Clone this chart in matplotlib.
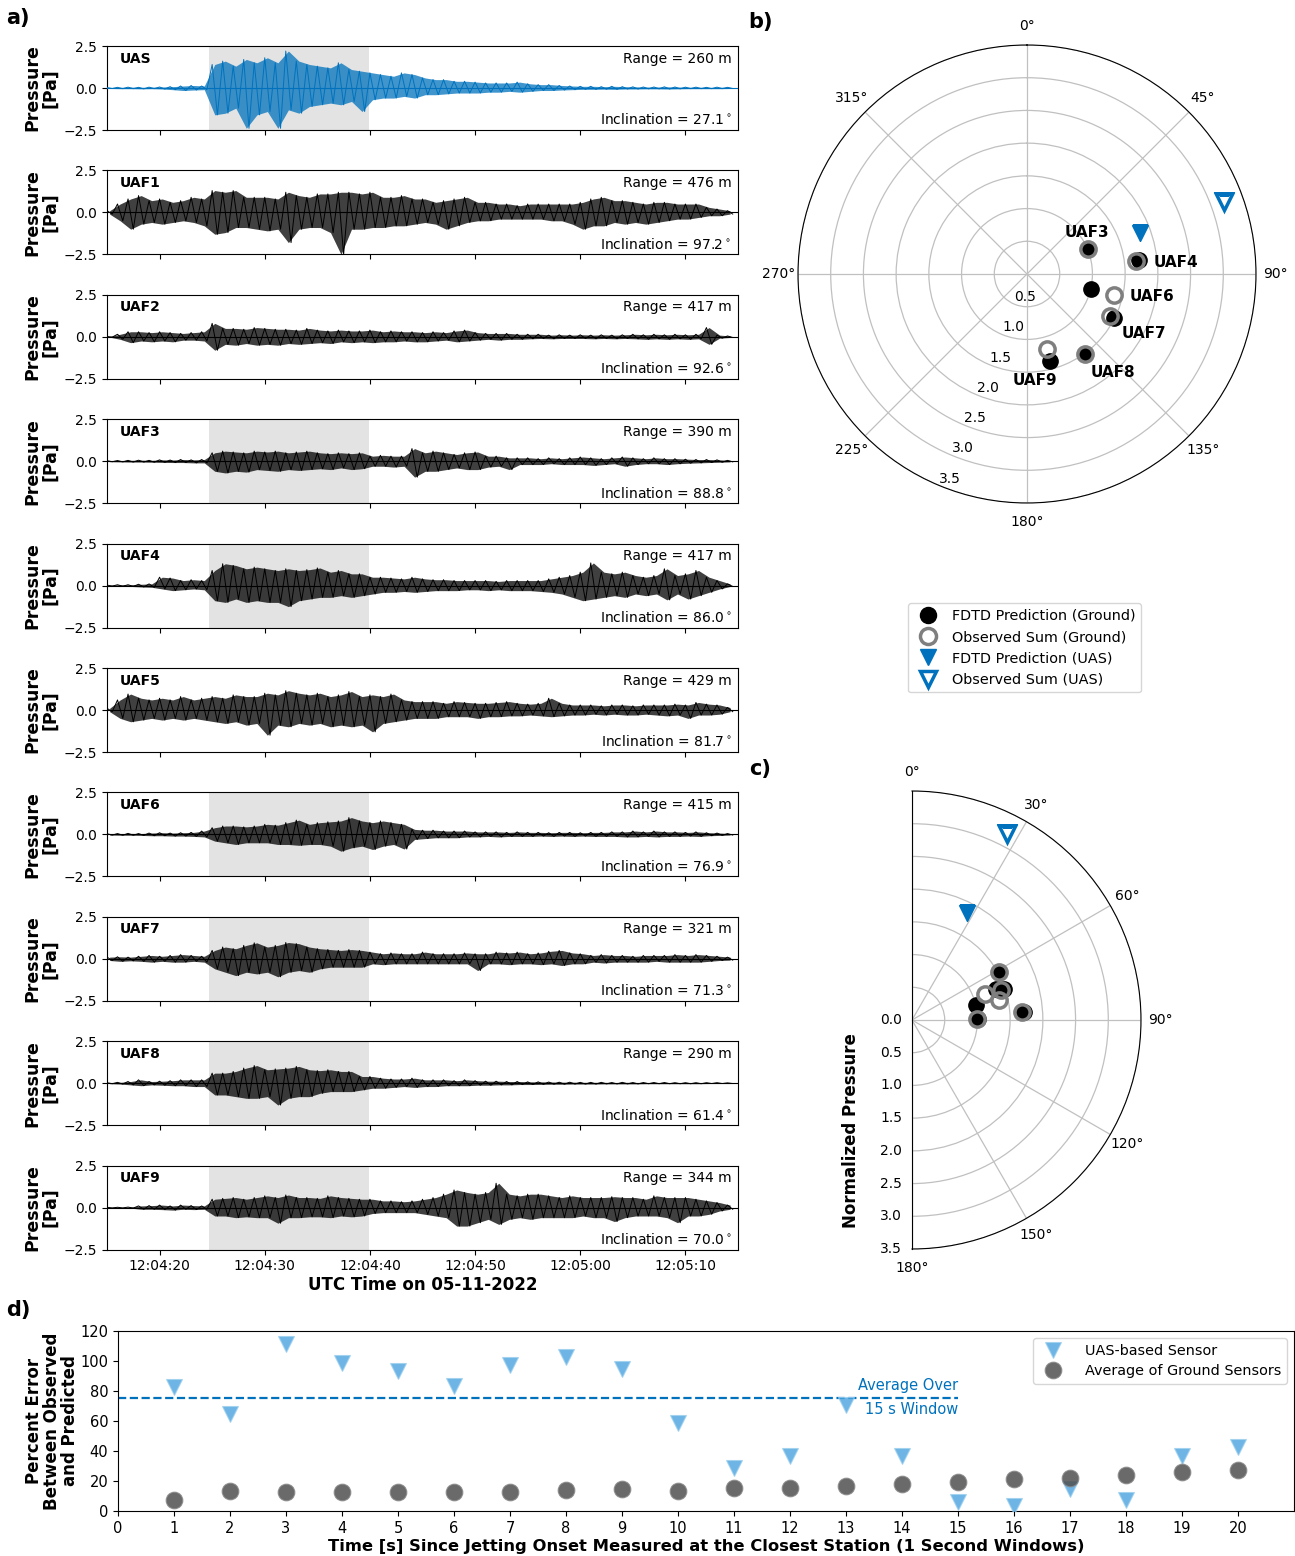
import numpy as np
import matplotlib.pyplot as plt

plt.rcParams['font.family'] = ['DejaVu Sans']

# ---------------- data ----------------
# panel a: 1 s bins from 12:04:15 (seconds after 12:04:00), positive / negative peaks [Pa]
sec = np.arange(15, 75)
onset_window = (24.7, 39.9)

stations = ["UAS", "UAF1", "UAF2", "UAF3", "UAF4", "UAF5", "UAF6", "UAF7", "UAF8", "UAF9"]
ranges_m = [260, 476, 417, 390, 417, 429, 415, 321, 290, 344]
inclinations = [27.1, 97.2, 92.6, 88.8, 86.0, 81.7, 76.9, 71.3, 61.4, 70.0]
shaded = [True, False, False, True, True, False, True, True, True, True]

uas_pos = [0.03, 0.04, 0.05, 0.04, 0.05, 0.06, 0.08, 0.12, 0.15, 0.12,
           1.4, 1.6, 1.3, 1.7, 1.5, 1.8, 1.5, 2.2, 1.6, 1.4,
           1.3, 1.2, 1.5, 1.1, 1.0, 0.9, 0.8, 0.7, 0.9, 0.8,
           0.6, 0.5, 0.5, 0.4, 0.4, 0.35, 0.3, 0.3, 0.3, 0.35,
           0.25, 0.2, 0.2, 0.15, 0.12, 0.1, 0.1, 0.08, 0.1, 0.08,
           0.07, 0.06, 0.06, 0.07, 0.06, 0.05, 0.05, 0.04, 0.05, 0.04]
uas_neg = [-0.03, -0.04, -0.04, -0.05, -0.04, -0.06, -0.1, -0.15, -0.12, -0.1,
           -1.6, -1.5, -1.2, -2.4, -1.6, -1.4, -2.4, -1.3, -1.5, -1.1,
           -1.0, -0.9, -1.0, -0.8, -1.4, -0.7, -0.6, -0.6, -0.5, -0.6,
           -0.4, -0.4, -0.35, -0.3, -0.3, -0.3, -0.25, -0.25, -0.2, -0.25,
           -0.2, -0.15, -0.15, -0.12, -0.1, -0.08, -0.08, -0.07, -0.08, -0.06,
           -0.06, -0.05, -0.05, -0.06, -0.05, -0.04, -0.04, -0.04, -0.04, -0.03]

uaf1_pos = [0.1, 0.5, 0.8, 1.0, 0.7, 0.8, 0.6, 0.7, 0.9, 0.8,
            1.3, 1.2, 1.3, 0.9, 0.9, 0.9, 0.8, 1.2, 1.0, 0.9,
            1.1, 1.1, 1.2, 1.2, 1.1, 1.2, 0.9, 0.9, 1.0, 0.8,
            0.8, 0.6, 0.7, 0.8, 0.9, 0.6, 0.6, 0.5, 0.5, 0.4,
            0.5, 0.5, 0.5, 0.5, 0.5, 0.6, 0.8, 0.9, 0.7, 0.7,
            0.6, 0.5, 0.6, 0.6, 0.5, 0.5, 0.5, 0.3, 0.2, 0.1]
uaf1_neg = [-0.1, -0.5, -1.0, -0.7, -0.6, -0.7, -0.6, -0.5, -0.6, -0.8,
            -1.3, -1.2, -0.9, -0.9, -1.0, -1.1, -1.0, -1.8, -1.0, -0.9,
            -0.9, -1.2, -2.5, -1.0, -1.0, -0.9, -0.9, -0.8, -0.8, -0.7,
            -0.6, -0.7, -1.0, -0.8, -0.6, -0.5, -0.5, -0.4, -0.4, -0.4,
            -0.4, -0.4, -0.5, -0.5, -0.7, -1.0, -0.8, -0.8, -0.6, -0.7,
            -0.6, -0.7, -0.6, -0.5, -0.4, -0.4, -0.3, -0.2, -0.2, -0.1]

uaf2_pos = [0.02, 0.15, 0.3, 0.3, 0.25, 0.3, 0.25, 0.2, 0.25, 0.3,
            0.8, 0.5, 0.5, 0.45, 0.55, 0.5, 0.45, 0.45, 0.4, 0.5,
            0.4, 0.35, 0.4, 0.35, 0.35, 0.4, 0.3, 0.35, 0.3, 0.3,
            0.25, 0.3, 0.25, 0.35, 0.4, 0.25, 0.2, 0.2, 0.2, 0.15,
            0.15, 0.15, 0.1, 0.12, 0.1, 0.12, 0.1, 0.12, 0.1, 0.12,
            0.15, 0.12, 0.15, 0.12, 0.15, 0.12, 0.15, 0.55, 0.1, 0.05]
uaf2_neg = [-0.02, -0.15, -0.35, -0.25, -0.3, -0.25, -0.3, -0.2, -0.2, -0.25,
            -0.8, -0.45, -0.5, -0.4, -0.5, -0.45, -0.5, -0.4, -0.45, -0.4,
            -0.35, -0.4, -0.3, -0.35, -0.3, -0.35, -0.3, -0.3, -0.25, -0.3,
            -0.3, -0.25, -0.2, -0.3, -0.25, -0.2, -0.15, -0.2, -0.15, -0.15,
            -0.12, -0.1, -0.12, -0.1, -0.1, -0.1, -0.12, -0.1, -0.12, -0.1,
            -0.12, -0.15, -0.12, -0.15, -0.12, -0.15, -0.12, -0.45, -0.08, -0.04]

uaf3_pos = [0.03, 0.04, 0.05, 0.06, 0.05, 0.08, 0.07, 0.1, 0.08, 0.1,
            0.5, 0.6, 0.55, 0.5, 0.6, 0.55, 0.6, 0.5, 0.55, 0.6,
            0.5, 0.45, 0.5, 0.45, 0.5, 0.3, 0.35, 0.3, 0.3, 0.75,
            0.5, 0.6, 0.5, 0.4, 0.5, 0.55, 0.3, 0.3, 0.2, 0.2,
            0.2, 0.15, 0.2, 0.15, 0.2, 0.25, 0.2, 0.15, 0.2, 0.25,
            0.2, 0.15, 0.2, 0.15, 0.15, 0.12, 0.1, 0.1, 0.08, 0.05]
uaf3_neg = [-0.03, -0.04, -0.05, -0.05, -0.06, -0.07, -0.08, -0.08, -0.1, -0.1,
            -0.6, -0.7, -0.6, -0.65, -0.5, -0.55, -0.6, -0.5, -0.55, -0.5,
            -0.45, -0.5, -0.4, -0.5, -0.45, -0.3, -0.3, -0.35, -0.3, -0.95,
            -0.6, -0.6, -0.5, -0.4, -0.5, -0.5, -0.35, -0.3, -0.5, -0.2,
            -0.2, -0.2, -0.15, -0.2, -0.2, -0.2, -0.25, -0.2, -0.15, -0.3,
            -0.2, -0.15, -0.15, -0.2, -0.15, -0.12, -0.1, -0.08, -0.06, -0.04]

uaf4_pos = [0.03, 0.05, 0.05, 0.08, 0.1, 0.5, 0.45, 0.3, 0.35, 0.3,
            0.9, 1.3, 1.2, 1.0, 1.1, 1.0, 0.9, 1.0, 0.9, 0.95,
            1.05, 0.8, 0.9, 0.7, 0.7, 0.5, 0.5, 0.45, 0.4, 0.5,
            0.4, 0.35, 0.35, 0.3, 0.3, 0.3, 0.3, 0.25, 0.3, 0.3,
            0.3, 0.3, 0.4, 0.5, 0.6, 0.8, 1.35, 0.8, 0.7, 0.8,
            0.6, 0.5, 0.6, 1.0, 0.6, 0.7, 0.9, 0.5, 0.3, 0.1]
uaf4_neg = [-0.03, -0.04, -0.05, -0.08, -0.1, -0.2, -0.3, -0.25, -0.2, -0.25,
            -0.9, -1.0, -0.8, -1.0, -0.9, -1.0, -1.0, -1.25, -0.9, -0.8,
            -0.7, -0.7, -0.6, -0.7, -0.6, -0.5, -0.4, -0.4, -0.35, -0.4,
            -0.35, -0.3, -0.3, -0.3, -0.25, -0.25, -0.3, -0.25, -0.3, -0.3,
            -0.3, -0.35, -0.4, -0.5, -0.7, -0.9, -0.8, -0.7, -0.6, -0.7,
            -0.5, -0.6, -0.5, -0.85, -0.5, -0.8, -0.6, -0.4, -0.2, -0.05]

uaf5_pos = [0.1, 0.6, 0.95, 0.7, 0.6, 0.7, 0.6, 0.8, 0.6, 0.7,
            0.8, 0.7, 0.9, 0.8, 0.8, 1.0, 0.9, 1.15, 1.0, 0.9,
            1.0, 0.8, 0.9, 1.1, 0.8, 0.9, 0.8, 0.95, 0.6, 0.5,
            0.5, 0.5, 0.4, 0.5, 0.45, 0.4, 0.4, 0.45, 0.5, 0.4,
            0.35, 0.4, 0.7, 0.4, 0.3, 0.3, 0.3, 0.25, 0.3, 0.3,
            0.25, 0.3, 0.3, 0.3, 0.35, 0.3, 0.45, 0.35, 0.3, 0.15]
uaf5_neg = [-0.1, -0.5, -0.7, -0.6, -0.5, -0.6, -0.5, -0.6, -0.5, -0.6,
            -0.7, -0.8, -0.7, -0.9, -0.8, -1.5, -0.9, -1.0, -0.8, -0.9,
            -0.8, -1.0, -0.9, -1.0, -0.9, -1.3, -0.8, -0.7, -0.6, -0.5,
            -0.5, -0.5, -0.4, -0.4, -0.4, -0.5, -0.4, -0.4, -0.35, -0.35,
            -0.3, -0.35, -0.4, -0.35, -0.3, -0.3, -0.25, -0.3, -0.25, -0.3,
            -0.3, -0.25, -0.3, -0.35, -0.3, -0.5, -0.3, -0.3, -0.25, -0.1]

uaf6_pos = [0.04, 0.05, 0.06, 0.05, 0.08, 0.1, 0.08, 0.1, 0.12, 0.2,
            0.4, 0.5, 0.5, 0.45, 0.5, 0.6, 0.55, 0.7, 0.85, 0.6,
            0.7, 0.75, 0.8, 1.0, 0.8, 0.7, 0.8, 0.7, 0.6, 0.3,
            0.25, 0.25, 0.2, 0.2, 0.2, 0.15, 0.15, 0.15, 0.12, 0.15,
            0.12, 0.12, 0.1, 0.12, 0.12, 0.1, 0.12, 0.12, 0.15, 0.15,
            0.2, 0.15, 0.2, 0.15, 0.15, 0.12, 0.15, 0.1, 0.08, 0.05]
uaf6_neg = [-0.04, -0.05, -0.05, -0.06, -0.08, -0.08, -0.1, -0.1, -0.12, -0.15,
            -0.4, -0.5, -0.6, -0.5, -0.5, -0.5, -0.6, -0.6, -0.65, -0.6,
            -0.6, -0.7, -1.0, -0.8, -0.7, -0.9, -0.7, -0.6, -0.87, -0.3,
            -0.25, -0.2, -0.2, -0.2, -0.15, -0.15, -0.12, -0.15, -0.12, -0.12,
            -0.12, -0.1, -0.12, -0.1, -0.12, -0.1, -0.12, -0.12, -0.12, -0.15,
            -0.15, -0.12, -0.15, -0.12, -0.12, -0.1, -0.12, -0.08, -0.06, -0.04]

uaf7_pos = [0.1, 0.12, 0.1, 0.15, 0.2, 0.15, 0.2, 0.25, 0.2, 0.15,
            0.5, 0.7, 0.6, 0.8, 0.95, 0.7, 0.8, 0.97, 0.9, 0.7,
            0.6, 0.55, 0.5, 0.55, 0.5, 0.4, 0.3, 0.35, 0.3, 0.3,
            0.4, 0.3, 0.3, 0.3, 0.35, 0.3, 0.3, 0.4, 0.35, 0.4,
            0.3, 0.35, 0.45, 0.5, 0.35, 0.3, 0.2, 0.25, 0.2, 0.2,
            0.15, 0.2, 0.2, 0.2, 0.25, 0.2, 0.25, 0.2, 0.15, 0.1]
uaf7_neg = [-0.1, -0.15, -0.12, -0.15, -0.2, -0.15, -0.2, -0.2, -0.15, -0.2,
            -0.6, -0.8, -1.0, -0.8, -0.9, -0.8, -1.07, -0.8, -0.7, -0.8,
            -0.6, -0.5, -0.5, -0.5, -0.5, -0.3, -0.35, -0.3, -0.3, -0.3,
            -0.3, -0.3, -0.3, -0.3, -0.3, -0.7, -0.3, -0.3, -0.35, -0.3,
            -0.3, -0.35, -0.3, -0.4, -0.3, -0.3, -0.2, -0.25, -0.2, -0.2,
            -0.2, -0.2, -0.15, -0.2, -0.2, -0.2, -0.2, -0.15, -0.1, -0.08]

uaf8_pos = [0.03, 0.05, 0.1, 0.2, 0.1, 0.12, 0.15, 0.2, 0.2, 0.2,
            0.6, 0.6, 0.7, 0.9, 1.05, 0.8, 0.85, 0.9, 1.0, 0.8,
            0.75, 0.8, 0.7, 0.7, 0.4, 0.4, 0.3, 0.25, 0.25, 0.3,
            0.2, 0.2, 0.2, 0.15, 0.2, 0.15, 0.12, 0.12, 0.1, 0.1,
            0.08, 0.08, 0.07, 0.06, 0.06, 0.05, 0.05, 0.05, 0.04, 0.05,
            0.04, 0.04, 0.04, 0.04, 0.03, 0.03, 0.03, 0.03, 0.03, 0.02]
uaf8_neg = [-0.03, -0.05, -0.1, -0.15, -0.1, -0.12, -0.15, -0.15, -0.2, -0.2,
            -0.7, -0.7, -0.8, -0.9, -0.9, -0.8, -1.3, -0.9, -0.8, -0.8,
            -0.6, -0.5, -0.5, -0.5, -0.4, -0.3, -0.3, -0.25, -0.2, -0.25,
            -0.2, -0.2, -0.15, -0.15, -0.15, -0.12, -0.12, -0.1, -0.1, -0.08,
            -0.08, -0.07, -0.06, -0.06, -0.05, -0.05, -0.05, -0.04, -0.04, -0.04,
            -0.04, -0.03, -0.03, -0.03, -0.03, -0.03, -0.03, -0.02, -0.02, -0.02]

uaf9_pos = [0.02, 0.02, 0.03, 0.1, 0.12, 0.15, 0.1, 0.15, 0.12, 0.1,
            0.5, 0.55, 0.6, 0.5, 0.6, 0.7, 0.6, 0.75, 0.6, 0.6,
            0.55, 0.7, 0.6, 0.55, 0.5, 0.5, 0.4, 0.4, 0.35, 0.4,
            0.5, 0.6, 0.8, 1.05, 0.9, 0.8, 0.9, 1.45, 0.8, 0.7,
            0.8, 0.8, 0.7, 0.6, 0.7, 0.6, 0.6, 0.6, 0.65, 0.6,
            0.6, 0.5, 0.7, 0.6, 0.6, 0.6, 0.5, 0.4, 0.3, 0.15]
uaf9_neg = [-0.02, -0.02, -0.03, -0.1, -0.1, -0.12, -0.15, -0.1, -0.12, -0.1,
            -0.5, -0.5, -0.6, -0.55, -0.6, -0.6, -0.93, -0.6, -0.6, -0.55,
            -0.55, -0.6, -0.5, -0.55, -0.5, -0.35, -0.3, -0.3, -0.3, -0.3,
            -0.4, -0.5, -0.6, -1.1, -1.1, -0.9, -0.7, -1.0, -0.7, -0.6,
            -0.7, -0.6, -0.6, -0.6, -0.6, -0.5, -0.6, -0.6, -0.83, -0.6,
            -0.5, -0.5, -0.5, -0.6, -0.9, -0.5, -0.5, -0.4, -0.2, -0.1]

trace_pos = [uas_pos, uaf1_pos, uaf2_pos, uaf3_pos, uaf4_pos,
             uaf5_pos, uaf6_pos, uaf7_pos, uaf8_pos, uaf9_pos]
trace_neg = [uas_neg, uaf1_neg, uaf2_neg, uaf3_neg, uaf4_neg,
             uaf5_neg, uaf6_neg, uaf7_neg, uaf8_neg, uaf9_neg]

time_ticks = [20, 30, 40, 50, 60, 70]
time_labels = ["12:04:20", "12:04:30", "12:04:40", "12:04:50", "12:05:00", "12:05:10"]

# panels b and c: ground stations shown in the polar plots
gnd_names = ["UAF3", "UAF4", "UAF6", "UAF7", "UAF8", "UAF9"]
gnd_azimuth = [67.7, 83.0, 103.4, 117.0, 144.0, 165.0]
gnd_incl = [88.8, 86.0, 76.9, 71.3, 61.4, 70.0]
gnd_pred = [1.01, 1.72, 1.00, 1.49, 1.52, 1.37]
gnd_obs = [1.00, 1.68, 1.36, 1.43, 1.52, 1.18]
uas_azimuth = 70.0
uas_incl = 27.1
uas_pred = 1.83
uas_obs = 3.20

# panel d
windows = list(range(1, 21))
uas_err = [83, 64.5, 111.5, 99, 93.5, 83.5, 97.5, 102.5, 95, 59,
           29, 36.5, 70.5, 37, 6, 3.5, 14.5, 7.5, 37, 42.5]
gnd_err = [7.3, 13.3, 12.4, 12.4, 12.4, 12.4, 12.8, 13.8, 14.4, 13.6,
           15.1, 15.6, 16.9, 18.0, 19.6, 21.1, 22.2, 23.8, 25.8, 27.1]
uas_avg_15s = 75.5

# ---------------- figure ----------------
W, H = 1295, 1556
fig = plt.figure(figsize=(W / 100, H / 100), dpi=100)
BLUE = "#0072BD"

# ---- panel a ----
for i, name in enumerate(stations):
    top = 46 + i * 124.4
    ax = fig.add_axes([107 / W, 1 - (top + 84) / H, 631 / W, 84 / H])
    col = BLUE if name == "UAS" else "black"
    # peak envelope as a band, with the peaks joined as an oscillating line
    ax.fill_between(sec + 0.25, trace_neg[i], trace_pos[i], color=col, alpha=0.75,
                    lw=0, zorder=2)
    t = np.empty(2 * len(sec))
    t[0::2] = sec
    t[1::2] = sec + 0.5
    p = np.empty(2 * len(sec))
    p[0::2] = trace_pos[i]
    p[1::2] = trace_neg[i]
    ax.plot(t, p, color=col, lw=0.7, zorder=3)
    ax.axhline(0, color=col, lw=0.8, zorder=3)
    if shaded[i]:
        ax.axvspan(*onset_window, color="#e3e3e3", lw=0, zorder=0)
    ax.set_xlim(15, 75)
    ax.set_ylim(-2.5, 2.5)
    ax.set_yticks([-2.5, 0.0, 2.5])
    ax.set_xticks(time_ticks)
    if i == len(stations) - 1:
        ax.set_xticklabels(time_labels)
        ax.set_xlabel("UTC Time on 05-11-2022", fontsize=12, fontweight="bold", labelpad=2)
    else:
        ax.set_xticklabels([])
    ax.tick_params(labelsize=10)
    ax.set_ylabel("Pressure\n[Pa]", fontsize=12.5, fontweight="bold",
                  linespacing=1.05, labelpad=3)
    ax.text(0.02, 0.85, name, transform=ax.transAxes, fontsize=10,
            fontweight="bold", va="center", ha="left")
    ax.text(0.99, 0.85, f"Range = {ranges_m[i]} m", transform=ax.transAxes,
            fontsize=10, va="center", ha="right")
    ax.text(0.99, 0.12, f"Inclination = {inclinations[i]:.1f}$^\\circ$",
            transform=ax.transAxes, fontsize=10, va="center", ha="right")

# ---- panel b ----
axb = fig.add_axes([798 / W, 1 - 503 / H, 458 / W, 458 / H], projection="polar")
axb.set_theta_zero_location("N")
axb.set_theta_direction(-1)
axb.set_ylim(0, 3.5)
axb.set_yticks(np.arange(0.5, 3.6, 0.5))
axb.set_rlabel_position(202.5)
axb.set_thetagrids(range(0, 360, 45))
axb.tick_params(labelsize=10)
axb.grid(color="#c0c0c0", lw=0.9)

az = np.deg2rad(gnd_azimuth)
axb.plot(az, gnd_pred, "o", color="black", ms=11, ls="none",
         label="FDTD Prediction (Ground)", zorder=3)
axb.plot(az, gnd_obs, "o", mfc="none", mec="#7f7f7f", mew=2.5, ms=11, ls="none",
         label="Observed Sum (Ground)", zorder=4)
axb.plot([np.deg2rad(uas_azimuth)], [uas_pred], "v", color=BLUE, ms=11, ls="none",
         label="FDTD Prediction (UAS)", zorder=3)
axb.plot([np.deg2rad(uas_azimuth)], [uas_obs], "v", mfc="none", mec=BLUE, mew=2.5,
         ms=11, ls="none", label="Observed Sum (UAS)", zorder=4)

label_offsets = [(-1, 16), (37, -2), (61, -7), (30, -15), (27, -18), (-15, -20)]
for name, a, r, off in zip(gnd_names, az, gnd_pred, label_offsets):
    axb.annotate(name, (a, r), xytext=off, textcoords="offset pixels",
                 ha="center", va="center", fontsize=11, fontweight="bold", zorder=5)

handles, labels = axb.get_legend_handles_labels()
fig.legend(handles, labels, loc="upper left",
           bbox_to_anchor=(901 / W, 1 - 596 / H), fontsize=10.4,
           handletextpad=0.6, borderpad=0.4, labelspacing=0.5, markerscale=1.05)

# ---- panel c ----
axc = fig.add_axes([797.5 / W, 1 - 1249 / H, 458 / W, 458 / H], projection="polar")
axc.set_theta_zero_location("N")
axc.set_theta_direction(-1)
axc.set_thetamin(0)
axc.set_thetamax(180)
axc.set_ylim(0, 3.5)
axc.set_yticks(np.arange(0.0, 3.6, 0.5))
axc.set_thetagrids(range(0, 181, 30))
axc.tick_params(labelsize=10)
axc.tick_params(axis="y", labelleft=False, labelright=True, left=False, right=False)
axc.grid(color="#c0c0c0", lw=0.9)

inc = np.deg2rad(gnd_incl)
axc.plot(inc, gnd_pred, "o", color="black", ms=11, ls="none", zorder=3)
axc.plot(inc, gnd_obs, "o", mfc="none", mec="#7f7f7f", mew=2.5, ms=11, ls="none", zorder=4)
axc.plot([np.deg2rad(uas_incl)], [uas_pred], "v", color=BLUE, ms=11, ls="none", zorder=3)
axc.plot([np.deg2rad(uas_incl)], [uas_obs], "v", mfc="none", mec=BLUE, mew=2.5,
         ms=11, ls="none", zorder=4)
fig.text(851 / W, 1 - 1131 / H, "Normalized Pressure", rotation=90, fontsize=12,
         fontweight="bold", ha="center", va="center")

# ---- panel d ----
axd = fig.add_axes([118 / W, 1 - 1511 / H, 1176 / W, 180 / H])
axd.plot(windows, uas_err, "v", color="#4aa3df", alpha=0.8, mec="#9fd0ef", mew=0.8,
         ms=12, ls="none", label="UAS-based Sensor", zorder=3)
axd.plot(windows, gnd_err, "o", color="#505050", alpha=0.85, mec="#8a8a8a", mew=0.8,
         ms=12, ls="none", label="Average of Ground Sensors", zorder=4)
axd.hlines(uas_avg_15s, 0, 15, colors=BLUE, linestyles="--", lw=1.6, zorder=2)
axd.text(15, uas_avg_15s + 3, "Average Over", color=BLUE, ha="right", va="bottom",
         fontsize=10.5)
axd.text(15, uas_avg_15s - 3, "15 s Window", color=BLUE, ha="right", va="top",
         fontsize=10.5)
axd.set_xlim(0, 21)
axd.set_ylim(0, 120)
axd.set_xticks(range(0, 21))
axd.set_yticks(range(0, 121, 20))
axd.tick_params(labelsize=10.5)
axd.set_xlabel("Time [s] Since Jetting Onset Measured at the Closest Station (1 Second Windows)",
               fontsize=11.8, fontweight="bold", labelpad=2)
axd.set_ylabel("Percent Error\nBetween Observed\nand Predicted", fontsize=12,
               fontweight="bold", linespacing=1.0, labelpad=1)
axd.legend(loc="upper right", fontsize=10.4, handletextpad=1.2, borderpad=0.4,
           labelspacing=0.45)

# ---- panel letters ----
for letter, x, y in [("a)", 18, 18), ("b)", 760, 22), ("c)", 760, 769), ("d)", 18, 1310)]:
    fig.text(x / W, 1 - y / H, letter, fontsize=15, fontweight="bold",
             ha="center", va="center")

fig.savefig("out.png", dpi=100)
